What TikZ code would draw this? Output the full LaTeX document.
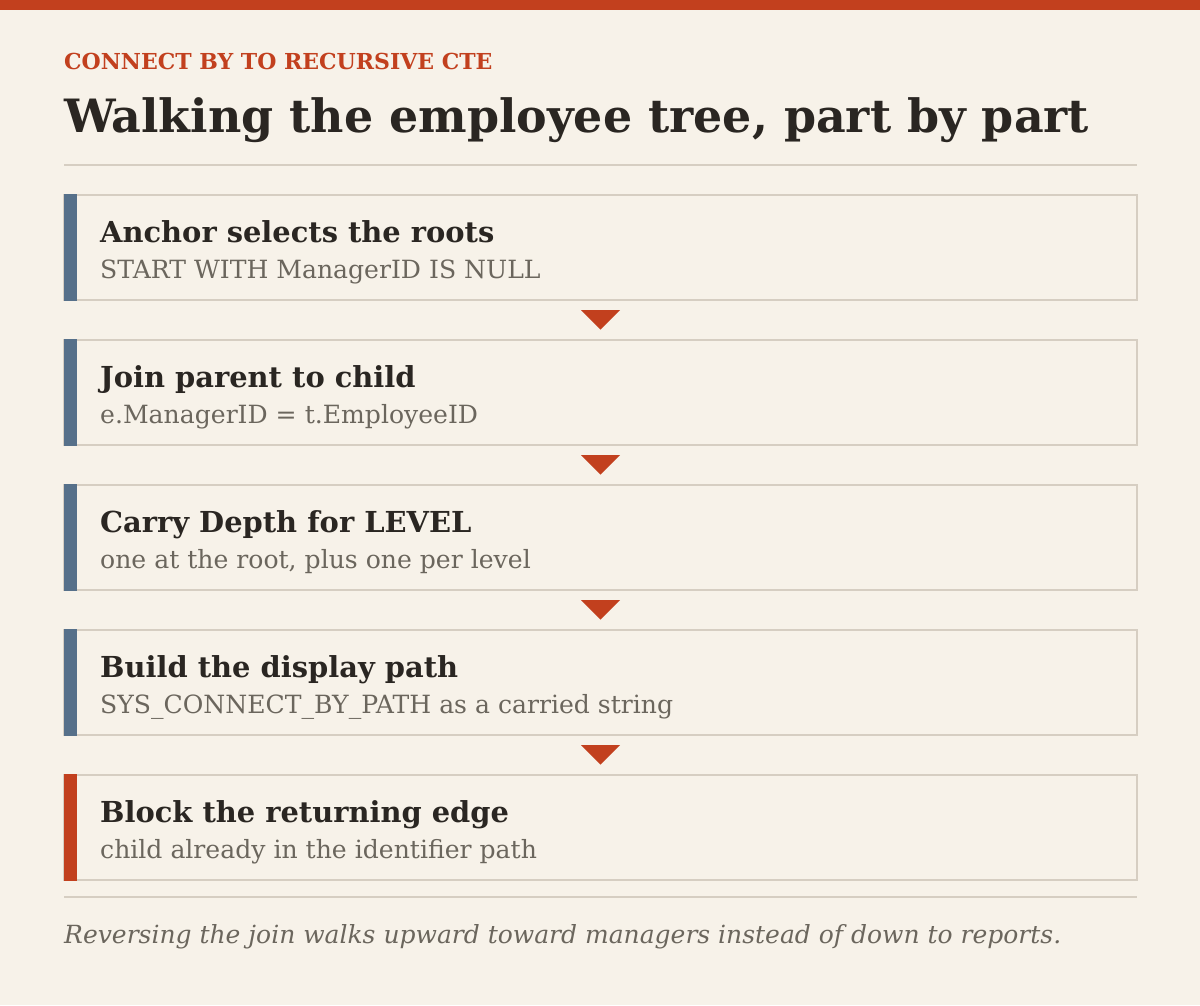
\documentclass[tikz,border=0pt]{standalone}
\usepackage{fontspec}
\setmainfont{DejaVu Serif}
\usetikzlibrary{calc}
\definecolor{bgc}{HTML}{F7F2E9}
\definecolor{redc}{HTML}{C2401E}
\definecolor{rulec}{HTML}{D6CEC2}
\definecolor{bluec}{HTML}{56708A}
\definecolor{inkc}{HTML}{2A2622}
\definecolor{grayc}{HTML}{6B665D}
\tikzset{
  stepbox/.style={draw=rulec, line width=2pt, fill=bgc, rectangle, outer sep=0pt, inner sep=0pt, minimum width=1073pt, minimum height=105pt},
  headtxt/.style={anchor=base west, inner sep=0pt, text=inkc, font=\fontsize{28.9}{32}\selectfont\bfseries},
  subtxt/.style={anchor=base west, inner sep=0pt, text=grayc, font=\fontsize{25.1}{28}\selectfont},
  flowtri/.style={fill=redc},
}
\begin{document}
\begin{tikzpicture}[x=1pt,y=-1pt]
\useasboundingbox (0,0) rectangle (1200,1005);
\fill[bgc] (0,0) rectangle (1200,1005);
\fill[redc] (0,0) rectangle (1200,10);
\node[anchor=base west, inner sep=0pt, text=redc, font=\fontsize{22}{26}\selectfont\bfseries] (kicker) at (64,69) {CONNECT BY TO RECURSIVE CTE};
\node[anchor=base west, inner sep=0pt, text=inkc, font=\fontsize{45.9}{54}\selectfont\bfseries] (title) at (64,132) {Walking the employee tree, part by part};
\draw[rulec, line width=2pt] (64,164.5) -- (1137,164.5);
% boxes
\foreach \i/\top/\acc/\h/\s in {1/195/bluec/Anchor selects the roots/START WITH ManagerID IS NULL,
                           2/340/bluec/Join parent to child/e.ManagerID = t.EmployeeID,
                           3/485/bluec/Carry Depth for LEVEL/{one at the root, plus one per level},
                           4/630/bluec/Build the display path/SYS\_CONNECT\_BY\_PATH as a carried string,
                           5/775/redc/Block the returning edge/child already in the identifier path}{
  \node[stepbox] (b\i) at (600.5,\top+52.5) {};
  \fill[\acc] (64,\top-1) rectangle (77,\top+106);
  \node[headtxt] (h\i) at (100,\top+47) {\h};
  \node[subtxt] (s\i) at (100,\top+83) {\s};
}
\foreach \a/\b in {1/2,2/3,3/4,4/5}{
  \coordinate (m\a) at ($(b\a.south)!0.5!(b\b.north)$);
  \fill[flowtri] ($(m\a)+(-19.5,-10)$) -- ($(m\a)+(19.5,-10)$) -- ($(m\a)+(0,9.5)$) -- cycle;
}
\draw[rulec, line width=2pt] (64,897) -- (1137,897);
\node[anchor=base west, inner sep=0pt, text=grayc, font=\fontsize{25}{28}\selectfont\itshape] (foot) at (64,943) {Reversing the join walks upward toward managers instead of down to reports.};
\end{tikzpicture}
\end{document}
